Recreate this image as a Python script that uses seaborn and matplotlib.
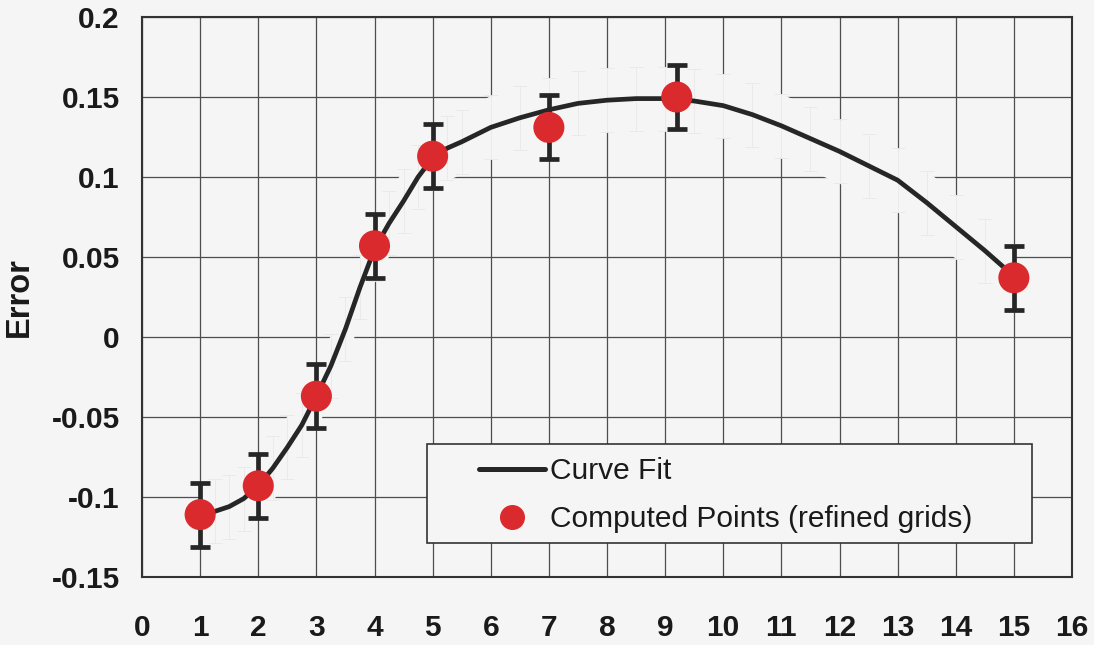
import numpy as np
import pandas as pd
import matplotlib
matplotlib.use("Agg")
import matplotlib.pyplot as plt
import seaborn as sns
from matplotlib.lines import Line2D
from matplotlib.patches import Rectangle

# ---- data ----
curve_x = [1, 1.25, 1.5, 1.75, 2, 2.25, 2.5, 2.75, 3, 3.25, 3.5, 3.75, 4, 4.25, 4.5, 4.75,
           5, 5.25, 5.5, 6, 6.5, 7, 7.5, 8, 8.5, 9, 9.5, 10, 10.5, 11, 11.5, 12, 12.5,
           13, 13.5, 14, 14.5, 15]
curve_y = [-0.111, -0.109, -0.106, -0.101, -0.093, -0.082, -0.069, -0.055, -0.037,
           -0.018, 0.005, 0.031, 0.055, 0.071, 0.085, 0.100, 0.112, 0.118, 0.122, 0.131,
           0.137, 0.142, 0.146, 0.148, 0.149, 0.149, 0.1475, 0.1446, 0.139, 0.132, 0.124,
           0.116, 0.107, 0.098, 0.084, 0.069, 0.054, 0.038]
band_halfwidth = 0.02

point_x = [1, 2, 3, 4, 5, 7, 9.2, 15]
point_y = [-0.111, -0.093, -0.037, 0.057, 0.113, 0.131, 0.150, 0.037]
point_err = [0.02, 0.02, 0.02, 0.02, 0.02, 0.02, 0.02, 0.02]

x_ticks = list(range(0, 17))
y_ticks = [-0.15, -0.1, -0.05, 0, 0.05, 0.1, 0.15, 0.2]
y_ticklabels = ["-0.15", "-0.1", "-0.05", "0", "0.05", "0.1", "0.15", "0.2"]

legend_labels = ["Curve Fit", "Computed Points (refined grids)"]
y_label = "Error"

# ---- style ----
BG = "#f5f5f5"
RED = "#db2a2e"
DARK = "#262626"
sns.set_style("ticks")
plt.rcParams["font.family"] = ["Liberation Sans", "DejaVu Sans"]

fig = plt.figure(figsize=(10.94, 6.45), dpi=100, facecolor=BG)
ax = fig.add_axes([142 / 1094, 1 - 577 / 645, 930 / 1094, 560 / 645])
ax.set_facecolor(BG)

curve_df = pd.DataFrame({"x": curve_x, "y": curve_y})
pts_df = pd.DataFrame({"x": point_x, "y": point_y, "err": point_err})

# faint uncertainty band around curve (hides grid)
cy = np.array(curve_y)
ax.fill_between(curve_x, cy - band_halfwidth, cy + band_halfwidth,
                color=BG, lw=0, zorder=1)
ax.errorbar(curve_x, curve_y, yerr=band_halfwidth, fmt="none",
            ecolor="#e9e9e9", elinewidth=0.6, capsize=5, capthick=0.6, zorder=1.2)

sns.lineplot(data=curve_df, x="x", y="y", ax=ax, color=DARK, lw=3.4,
             sort=False, zorder=3, legend=False)
ax.errorbar(point_x, point_y, yerr=point_err, fmt="none", ecolor=DARK,
            elinewidth=3.4, capsize=7.5, capthick=3.4, zorder=4)
sns.scatterplot(data=pts_df, x="x", y="y", ax=ax, color=RED, s=500,
                edgecolor="none", zorder=5, legend=False)

ax.set_xlim(0, 16)
ax.set_ylim(-0.15, 0.2)
ax.set_xticks(x_ticks)
ax.set_xticklabels([str(t) for t in x_ticks])
ax.set_yticks(y_ticks)
ax.set_yticklabels(y_ticklabels)
ax.tick_params(axis="both", length=0, labelsize=21.5, colors="#1a1a1a")
ax.tick_params(axis="x", pad=27)
ax.tick_params(axis="y", pad=16)
for lab in ax.get_xticklabels() + ax.get_yticklabels():
    lab.set_fontweight("bold")
ax.set_xlabel("")
ax.set_ylabel(y_label, fontsize=23.5, fontweight="bold", color="#1a1a1a")
ax.yaxis.set_label_coords((35 - 142) / 930, 0.5)

ax.grid(True, color="#4d4d4d", lw=0.9)
ax.set_axisbelow(True)
for sp in ax.spines.values():
    sp.set_color("#333333")
    sp.set_linewidth(1.5)

# legend box
ax.add_patch(Rectangle(((427 - 142) / 930, (577 - 543) / 560), (1032 - 427) / 930,
                       (543 - 444) / 560, transform=ax.transAxes, facecolor=BG,
                       edgecolor="#333333", lw=1.2, zorder=6))
handles = [Line2D([], [], color=DARK, lw=3.6),
           Line2D([], [], color=RED, marker="o", ls="none", markersize=17)]
leg = ax.legend(handles, legend_labels, loc="upper left",
                bbox_to_anchor=((479 - 142) / 930, (577 - 457) / 560),
                frameon=False, fontsize=21.5, handlelength=2.2, handletextpad=0.17,
                borderpad=0, borderaxespad=0, labelspacing=0.67)
leg.set_zorder(7)
for t in leg.get_texts():
    t.set_color("#1a1a1a")

fig.savefig("out.png", dpi=100, facecolor=BG)
